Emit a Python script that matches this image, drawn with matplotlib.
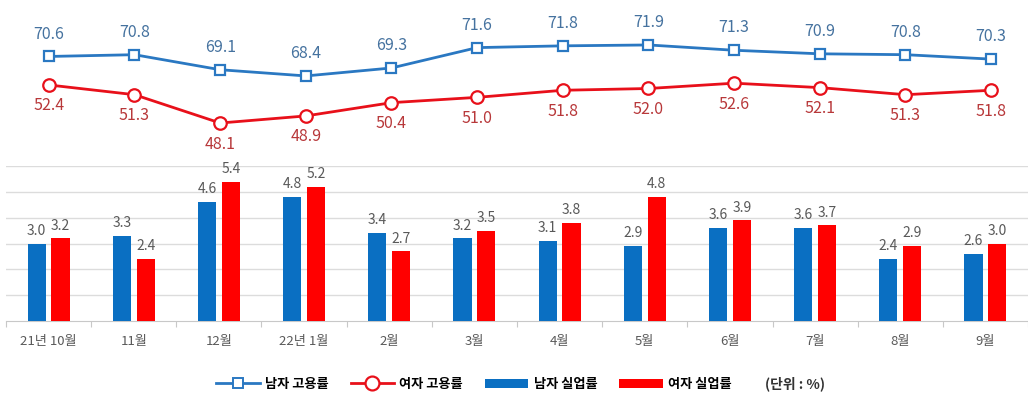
import matplotlib
matplotlib.use("Agg")
import matplotlib.pyplot as plt
from matplotlib.lines import Line2D
from matplotlib.patches import Patch
import numpy as np

plt.rcParams['font.family'] = ['Noto Sans CJK KR', 'DejaVu Sans']

# 월별 고용률 / 실업률 (단위 : %)
months = ['21년 10월', '11월', '12월', '22년 1월', '2월', '3월',
          '4월', '5월', '6월', '7월', '8월', '9월']
male_emp = [70.6, 70.8, 69.1, 68.4, 69.3, 71.6, 71.8, 71.9, 71.3, 70.9, 70.8, 70.3]
female_emp = [52.4, 51.3, 48.1, 48.9, 50.4, 51.0, 51.8, 52.0, 52.6, 52.1, 51.3, 51.8]
male_unemp = [3.0, 3.3, 4.6, 4.8, 3.4, 3.2, 3.1, 2.9, 3.6, 3.6, 2.4, 2.6]
female_unemp = [3.2, 2.4, 5.4, 5.2, 2.7, 3.5, 3.8, 4.8, 3.9, 3.7, 2.9, 3.0]

BLUE_LINE = '#2a78c2'
RED_LINE = '#e8101a'
BLUE_BAR = '#0a6fc2'
RED_BAR = '#ff0000'
BLUE_TXT = '#45729f'
RED_TXT = '#b8383a'
GRAY_TXT = '#595959'

W, H = 1028, 396
fig = plt.figure(figsize=(W / 100, H / 100), dpi=100)
fig.patch.set_facecolor('white')

x = np.arange(len(months))
xlim = (-0.5, 11.43)
left_px, right_px = 6, 1028


def px_axes(top, bottom):
    return fig.add_axes([left_px / W, 1 - bottom / H,
                         (right_px - left_px) / W, (bottom - top) / H])


# 막대 그래프 (실업률)
ax = px_axes(166, 321)
bw = 0.215
off = 0.14
ax.bar(x - off, male_unemp, bw, color=BLUE_BAR, zorder=3)
ax.bar(x + off, female_unemp, bw, color=RED_BAR, zorder=3)
for i in range(len(months)):
    ax.text(x[i] - off, male_unemp[i] + 0.22, f'{male_unemp[i]:.1f}', ha='center',
            va='bottom', fontsize=10, color=GRAY_TXT, clip_on=False)
    ax.text(x[i] + off, female_unemp[i] + 0.22, f'{female_unemp[i]:.1f}', ha='center',
            va='bottom', fontsize=10, color=GRAY_TXT, clip_on=False)
ax.set_xlim(*xlim)
ax.set_ylim(0, 6)
ax.set_yticks(range(1, 7))
ax.yaxis.grid(True, color='#dcdcdc', linewidth=1)
ax.tick_params(axis='y', left=False, labelleft=False)
for s in ['top', 'right', 'left']:
    ax.spines[s].set_visible(False)
ax.spines['bottom'].set_color('#c8c8c8')
ax.set_xticks(np.arange(-0.5, 12, 1))
ax.set_xticklabels([])
ax.tick_params(axis='x', length=4, color='#c8c8c8', direction='out')
for i, m in enumerate(months):
    ax.text(x[i], -0.55, m, ha='center', va='top', fontsize=9.5, color=GRAY_TXT)

# 꺾은선 그래프 (고용률) - 남녀 각각 별도 축
ppu = 8.85
span = 150 / ppu
ax_m = px_axes(0, 150)
ax_f = px_axes(0, 150)
for a in (ax_m, ax_f):
    a.set_xlim(*xlim)
    a.axis('off')
    a.patch.set_alpha(0)
ax_m.set_ylim(76.98 - span, 76.98)
ax_f.set_ylim(62.0 - span, 62.0)

ax_m.plot(x, male_emp, color=BLUE_LINE, lw=2, marker='s', ms=7,
          mfc='white', mec=BLUE_LINE, mew=1.6, zorder=3)
ax_f.plot(x, female_emp, color=RED_LINE, lw=2, marker='o', ms=9,
          mfc='white', mec=RED_LINE, mew=1.6, zorder=3)
for i in range(len(months)):
    ax_m.annotate(f'{male_emp[i]:.1f}', (x[i], male_emp[i]), xytext=(0, 10),
                  textcoords='offset points', ha='center', va='bottom',
                  fontsize=11.5, color=BLUE_TXT)
    ax_f.annotate(f'{female_emp[i]:.1f}', (x[i], female_emp[i]), xytext=(0, -9),
                  textcoords='offset points', ha='center', va='top',
                  fontsize=11.5, color=RED_TXT)

# 범례
handles = [
    Line2D([], [], color=BLUE_LINE, lw=2, marker='s', ms=7, mfc='white', mec=BLUE_LINE, mew=1.4),
    Line2D([], [], color=RED_LINE, lw=2, marker='o', ms=10, mfc='white', mec=RED_LINE, mew=1.6),
    Patch(facecolor=BLUE_BAR),
    Patch(facecolor=RED_BAR),
]
labels = ['남자 고용률', '여자 고용률', '남자 실업률', '여자 실업률']
fig.legend(handles, labels, loc='center', bbox_to_anchor=(474 / W, 1 - 384 / H),
           ncol=4, frameon=False, handlelength=3.3, handleheight=0.75,
           handletextpad=0.4, columnspacing=1.65, prop={'weight': 'bold', 'size': 9.5})
fig.text(795 / W, 1 - 384 / H, '(단위 : %)', ha='center', va='center',
         fontsize=10, fontweight='bold', color='#333333')

fig.savefig('out.png', dpi=100)
